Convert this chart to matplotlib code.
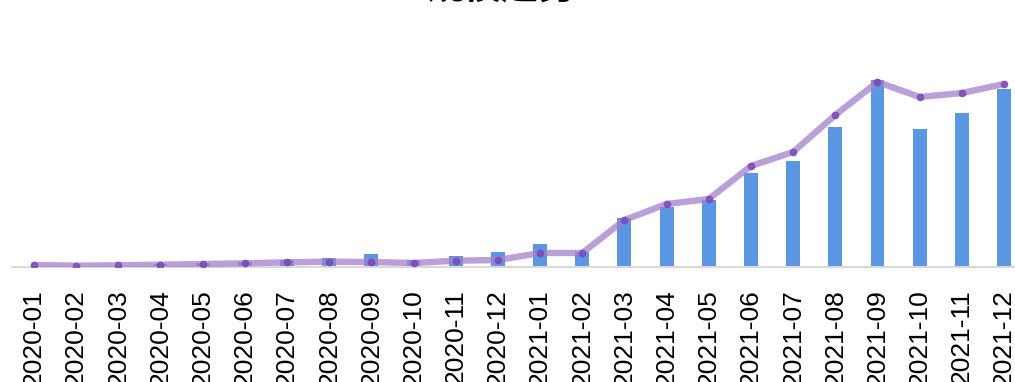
import matplotlib.pyplot as plt

plt.rcParams['font.family'] = ['Liberation Sans', 'Noto Sans CJK SC', 'DejaVu Sans']

months = ['2020-01', '2020-02', '2020-03', '2020-04', '2020-05', '2020-06',
          '2020-07', '2020-08', '2020-09', '2020-10', '2020-11', '2020-12',
          '2021-01', '2021-02', '2021-03', '2021-04', '2021-05', '2021-06',
          '2021-07', '2021-08', '2021-09', '2021-10', '2021-11', '2021-12']

# 柱状数据
bar_vals = [1.5, 0.3, 1.5, 3, 4, 5, 7, 8.7, 12.7, 6.7, 10.7, 14.7,
            23, 15, 49, 60, 67, 94, 106, 140, 187, 138, 154, 178]

# 折线数据
line_vals = [2, 1.3, 1.7, 2.3, 3, 3.7, 4.7, 5.3, 5, 4, 6.3, 7,
             14, 14, 47, 63, 68, 101, 115, 152, 185, 170, 174, 183]

fig = plt.figure(figsize=(10.15, 3.82), dpi=100)
ax = fig.add_axes([12 / 1015, 1 - 267 / 382, 1 - 12 / 1015, 227 / 382])

x = range(len(months))
ax.bar(x, bar_vals, width=0.33, color='#5b96e2', zorder=2)
ax.plot(x, line_vals, color='#a47fcc', alpha=0.75, linewidth=4.6,
        solid_capstyle='round', zorder=3)
ax.plot(x, line_vals, linestyle='none', marker='o', markersize=4.5,
        color='#7a45b5', alpha=0.8, zorder=4)

ax.set_xlim(-0.52, 23.26)
ax.set_ylim(0, 227)
ax.set_xticks(list(x))
ax.set_xticklabels(months, rotation=90, fontsize=19)
ax.tick_params(axis='x', length=0, pad=16)
ax.set_yticks([])
for s in ['top', 'right', 'left']:
    ax.spines[s].set_visible(False)
ax.spines['bottom'].set_color('#d9d9d9')
ax.spines['bottom'].set_linewidth(1.5)

fig.text(0.494, 1 - 7 / 382, '规模趋势', ha='center', va='bottom',
         fontsize=27, fontweight='bold', family=['Noto Sans CJK SC', 'DejaVu Sans'])

fig.savefig('out.png', dpi=100)
